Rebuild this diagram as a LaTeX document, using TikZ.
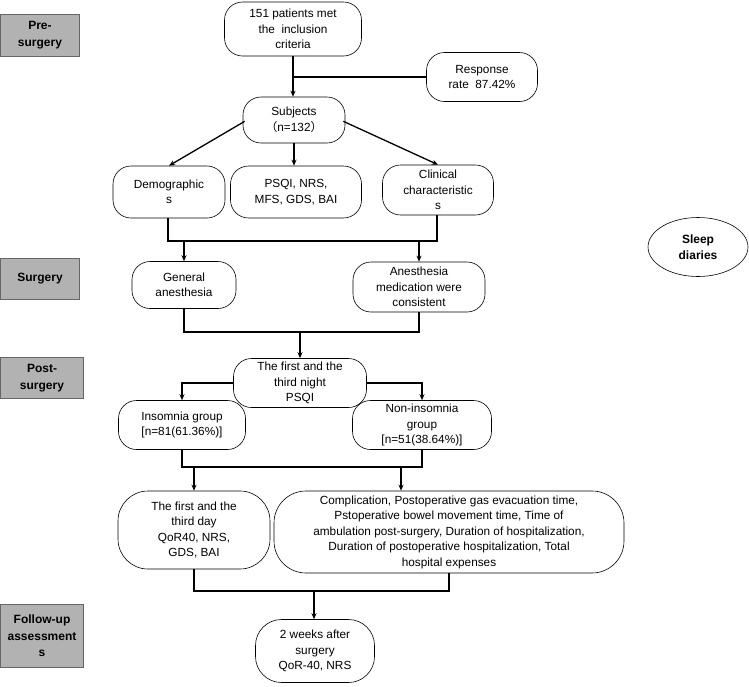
\documentclass[tikz,border=0pt]{standalone}
\usepackage{fontspec}
\setmainfont{Liberation Sans}
\newfontfamily\cjk{Noto Sans CJK SC}
\usetikzlibrary{arrows.meta,shapes.geometric}
\begin{document}
\begin{tikzpicture}[x=1pt,y=-1pt,
  box/.style={draw,line width=0.6pt,rounded corners=18pt,align=center,font=\fontsize{11.8}{15.5}\selectfont,inner sep=1pt},
  stage/.style={draw=black!60,fill=black!30,align=center,font=\bfseries\fontsize{12}{16.5}\selectfont,inner sep=1pt},
  ln/.style={line width=1.3pt},
  ar/.style={line width=1.3pt,-{Stealth[length=6pt,width=5pt]}}]
\useasboundingbox (0,0) rectangle (749,686);
\node[stage,minimum width=79pt,minimum height=42pt] (s1) at (40,35) {Pre-\\surgery};
\node[stage,minimum width=79pt,minimum height=41pt] (s2) at (40,279) {Surgery};
\node[stage,minimum width=83pt,minimum height=41pt] (s3) at (42,378) {Post-\\surgery};
\node[stage,minimum width=83pt,minimum height=63pt] (s4) at (42,636) {Follow-up\\assessment\\s};
\node[box,minimum width=137pt,minimum height=54pt] (top) at (293,29) {151 patients met\\the \ inclusion\\criteria};
\node[box,minimum width=111pt,minimum height=49pt] (resp) at (482,77) {Response\\rate \ 87.42\%};
\node[box,minimum width=102pt,minimum height=46pt] (subj) at (294,120) {Subjects\\{\cjk （}n=132{\cjk ）}};
\node[box,minimum width=112pt,minimum height=52pt] (demo) at (169,192) {Demographic\\s};
\node[box,minimum width=131pt,minimum height=52pt] (psqi) at (296,192) {PSQI, NRS,\\MFS, GDS, BAI};
\node[box,minimum width=111pt,minimum height=50pt] (clin) at (438,190) {Clinical\\characteristic\\s};
\node[draw,line width=0.6pt,ellipse,minimum width=100pt,minimum height=59pt,align=center,font=\bfseries\fontsize{12}{16}\selectfont] (sleep) at (698,247) {Sleep\\diaries};
\node[box,minimum width=104pt,minimum height=47pt] (gen) at (184,285) {General\\anesthesia};
\node[box,minimum width=132pt,minimum height=50pt] (anes) at (419,287) {Anesthesia\\medication were\\consistent};
\node[box,minimum width=133pt,minimum height=49pt] (night) at (300,383) {The first and the\\third night\\PSQI};
\node[box,minimum width=127pt,minimum height=49pt] (ins) at (182,425) {Insomnia group\\{[n=81(61.36\%)]}};
\node[box,minimum width=139pt,minimum height=49pt] (non) at (422,425) {Non-insomnia\\group\\{[n=51(38.64\%)]}};
\node[box,minimum width=152pt,minimum height=78pt,rounded corners=30pt] (day) at (194,530) {The first and the\\third day\\QoR40, NRS,\\GDS, BAI};
\node[box,minimum width=350pt,minimum height=82pt,rounded corners=32pt] (comp) at (449,532) {Complication, Postoperative gas evacuation time,\\Pstoperative bowel movement time, Time of\\ambulation post-surgery, Duration of hospitalization,\\Duration of postoperative hospitalization, Total\\hospital expenses};
\node[box,minimum width=119pt,minimum height=63pt,rounded corners=26pt] (wk) at (315,651) {2 weeks after\\surgery\\QoR-40, NRS};
% connectors
\draw[ar] (top.south) -- (top.south |- subj.north);
\coordinate (j0) at (293,77);
\draw[ln] (j0) -- (resp.west |- j0);
\draw[ar] (subj.south west) ++(2,-22) -- (demo.north);
\draw[ar] (subj.south) -- (psqi.north -| subj.south);
\draw[ar] (subj.south east) ++(-2,-22) -- (clin.north);
\coordinate (j1) at (168,241); \coordinate (j2) at (437,241);
\draw[ln] (demo.south -| j1) -- (j1) -- (j2) -- (clin.south -| j2);
\coordinate (a1) at (184,241); \coordinate (a2) at (419,241);
\draw[ar] (a1) -- (gen.north);
\draw[ar] (a2) -- (anes.north);
\coordinate (j3) at (184,332); \coordinate (j4) at (419,332);
\draw[ln] (gen.south) -- (j3) -- (j4) -- (anes.south);
\coordinate (a3) at (300,332);
\draw[ar] (a3) -- (night.north);
\draw[ar] (night.west) -| (ins.north);
\draw[ar] (night.east) -| (non.north);
\coordinate (j5) at (182,467); \coordinate (j6) at (422,467);
\draw[ln] (ins.south) -- (j5) -- (j6) -- (non.south);
\coordinate (a5) at (194,467); \coordinate (a6) at (401,467);
\draw[ar] (a5) -- (day.north);
\draw[ar] (a6) -- (comp.north -| a6);
\coordinate (j7) at (194,591); \coordinate (j8) at (449,591);
\draw[ln] (day.south) -- (j7) -- (j8) -- (comp.south);
\coordinate (j9) at (314,591);
\draw[ar] (j9) -- (wk.north -| j9);
\end{tikzpicture}
\end{document}
